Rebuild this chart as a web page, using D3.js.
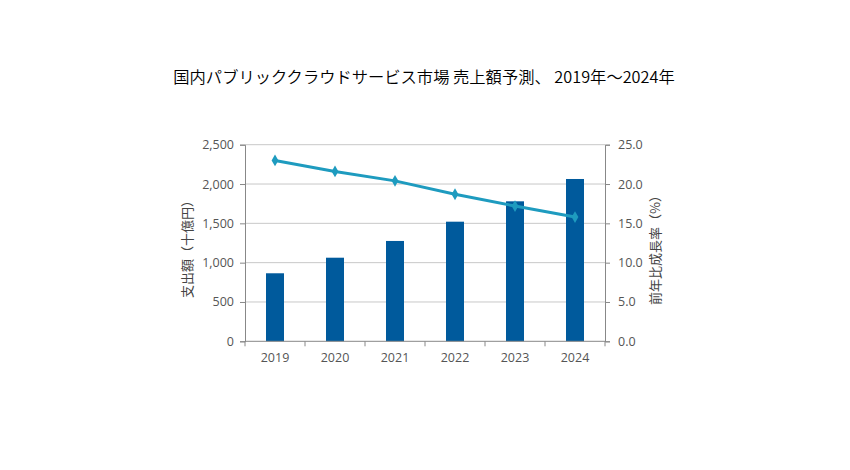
<!DOCTYPE html>
<html><head><meta charset="utf-8">
<script src="https://cdn.jsdelivr.net/npm/d3@7"></script>
<style>
body{margin:0;background:#fff;}
text{font-family:"Open Sans","Noto Sans CJK JP",sans-serif;}
</style></head>
<body>
<svg id="chart" width="850" height="470"></svg>
<script>
const years = ["2019","2020","2021","2022","2023","2024"];
const spending = [865, 1063, 1276, 1521, 1780, 2064];
const growth = [23.0, 21.6, 20.4, 18.7, 17.2, 15.8];
const leftTicks = [0, 500, 1000, 1500, 2000, 2500];
const rightTicks = [0, 5, 10, 15, 20, 25];

const svg = d3.select("#chart");
const m = {l:245, r:605, t:144.7, b:341.3};
const cjk = '"Noto Sans CJK JP",sans-serif';

svg.append("text").attr("x",424).attr("y",83).attr("text-anchor","middle")
  .attr("font-size",16.3).attr("fill","#000").attr("font-weight",350).style("font-family",cjk)
  .text("国内パブリッククラウドサービス市場 売上額予測、 2019年～2024年");

const x = d3.scaleBand().domain(years).range([m.l,m.r]).paddingInner(0.7).paddingOuter(0.35);
const xb = d3.scaleBand().domain(years).range([m.l,m.r]);
const yL = d3.scaleLinear().domain([0,2500]).range([m.b,m.t]);
const yR = d3.scaleLinear().domain([0,25]).range([m.b,m.t]);

// gridlines
svg.append("g").selectAll("line").data(leftTicks.slice(1)).join("line")
  .attr("x1",m.l).attr("x2",m.r).attr("y1",d=>yL(d)).attr("y2",d=>yL(d))
  .attr("stroke","#c8c8c8").attr("stroke-width",1);

// bars
svg.append("g").selectAll("rect").data(years).join("rect")
  .attr("x",d=>x(d)).attr("width",x.bandwidth())
  .attr("y",(d,i)=>yL(spending[i])).attr("height",(d,i)=>m.b-yL(spending[i]))
  .attr("fill","#005a9c");

// axes
const axL = svg.append("g").attr("transform",`translate(${m.l},0)`)
  .call(d3.axisLeft(yL).tickValues(leftTicks).tickFormat(d3.format(",")).tickSize(5).tickPadding(6));
const axR = svg.append("g").attr("transform",`translate(${m.r},0)`)
  .call(d3.axisRight(yR).tickValues(rightTicks).tickFormat(d3.format(".1f")).tickSize(5).tickPadding(8));
const axB = svg.append("g").attr("transform",`translate(0,${m.b})`)
  .call(d3.axisBottom(xb).tickSize(0).tickPadding(12));
// bottom boundary ticks
svg.append("g").selectAll("line").data(years.concat(["end"])).join("line")
  .attr("x1",(d,i)=>m.l+i*xb.bandwidth()).attr("x2",(d,i)=>m.l+i*xb.bandwidth())
  .attr("y1",m.b).attr("y2",m.b+5).attr("stroke","#888");
[axL,axR,axB].forEach(a=>{
  a.selectAll(".domain").attr("stroke","#888");
  a.selectAll(".tick line").attr("stroke","#888");
  a.selectAll("text").attr("fill","#555").attr("font-size",12.5);
});
axB.select(".domain").attr("d",`M${m.l},0H${m.r}`);

// line
const line = d3.line().x((d,i)=>xb(years[i])+xb.bandwidth()/2).y(d=>yR(d));
svg.append("path").datum(growth).attr("d",line).attr("fill","none")
  .attr("stroke","#1e9bbf").attr("stroke-width",3);
svg.append("g").selectAll("path").data(growth).join("path")
  .attr("transform",(d,i)=>`translate(${xb(years[i])+xb.bandwidth()/2},${yR(d)})`)
  .attr("d",d3.symbol(d3.symbolDiamond,40)).attr("fill","#1e9bbf");

// axis titles
svg.append("text").attr("transform","translate(192,246) rotate(-90)")
  .attr("text-anchor","middle").attr("font-size",13).attr("fill","#444").style("font-family",cjk)
  .text("支出額（十億円）");
svg.append("text").attr("transform","translate(660,247) rotate(-90)")
  .attr("text-anchor","middle").attr("font-size",13).attr("fill","#444").style("font-family",cjk)
  .text("前年比成長率（%）");
</script>
</body></html>
